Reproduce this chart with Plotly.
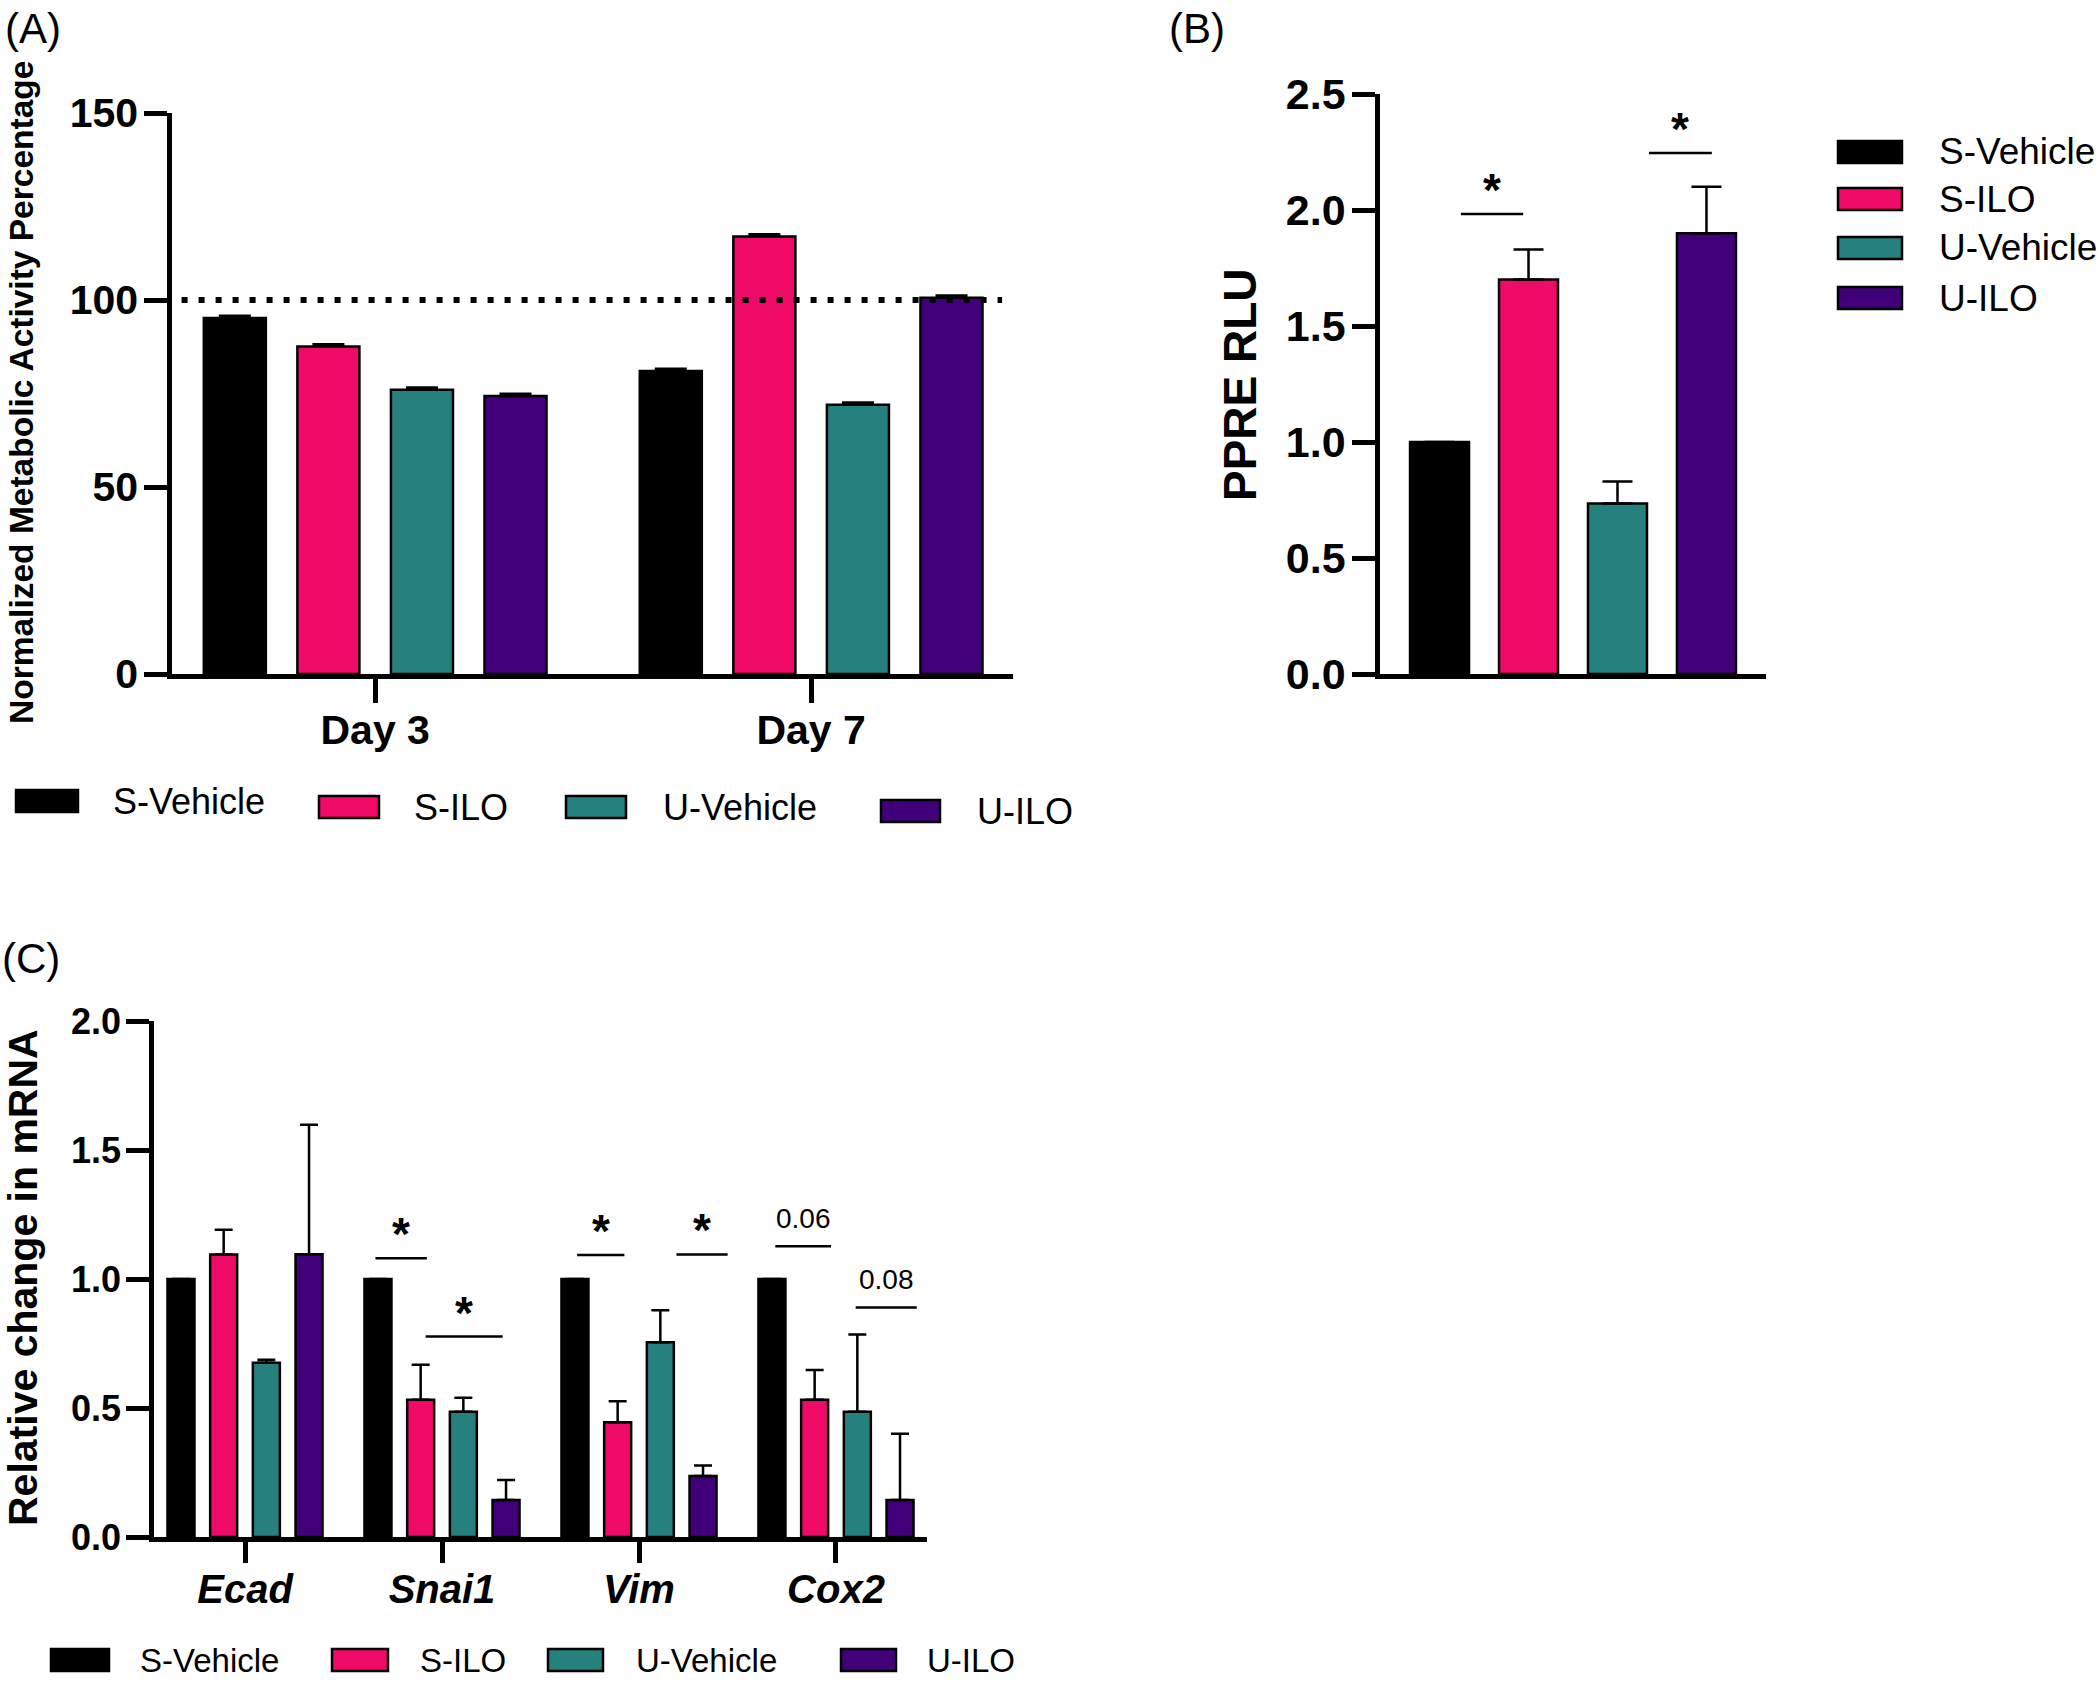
"""Painel de três gráficos de barras (A, B, C) em Plotly."""

import plotly.graph_objects as go

W, H = 2100, 1682
FONT = "Liberation Sans, Arial, Helvetica, sans-serif"

GROUPS = ["S-Vehicle", "S-ILO", "U-Vehicle", "U-ILO"]
COLORS = ["#000000", "#EF0A68", "#26807D", "#41007A"]

# ── (A) metabolic activity ──────────────────────────────────────────────────
DAYS = ["Day 3", "Day 7"]
A_S_VEH = [95.2, 81.0]
A_S_ILO = [87.6, 117.0]
A_U_VEH = [76.0, 72.0]
A_U_ILO = [74.3, 100.6]
A_ERR = [0.6, 0.6]
A_REF = 100

# ── (B) PPRE luciferase ─────────────────────────────────────────────────────
B_MEAN = [1.0, 1.70, 0.735, 1.90]
B_ERR = [0.0, 0.13, 0.095, 0.20]
B_SIG = [(0.24, 0.94, 1.983, "*"), (2.355, 3.06, 2.246, "*")]

# ── (C) qPCR ────────────────────────────────────────────────────────────────
GENES = ["Ecad", "Snai1", "Vim", "Cox2"]
C_S_VEH = [1.0, 1.0, 1.0, 1.0]
C_S_ILO = [1.095, 0.532, 0.445, 0.532]
C_U_VEH = [0.675, 0.485, 0.755, 0.485]
C_U_ILO = [1.096, 0.143, 0.236, 0.143]
C_S_VEH_ERR = [0, 0, 0, 0]
C_S_ILO_ERR = [0.096, 0.136, 0.081, 0.115]
C_U_VEH_ERR = [0.012, 0.055, 0.124, 0.30]
C_U_ILO_ERR = [0.502, 0.078, 0.041, 0.257]
C_SIG = [
    (0.662, 0.923, 1.08, "*"),
    (0.917, 1.308, 0.777, "*"),
    (1.686, 1.926, 1.093, "*"),
    (2.19, 2.45, 1.095, "*"),
    (2.692, 2.975, 1.127, "0.06"),
    (3.10, 3.41, 0.89, "0.08"),
]


def px(x0, x1):
    return [x0 / W, x1 / W]


def py(top, bottom):
    return [1 - bottom / H, 1 - top / H]


def _xaxis(dom, rng, anchor, labels=None, size=40, style="normal", ticklen=23):
    d = dict(domain=dom, range=rng, anchor=anchor, showgrid=False, zeroline=False,
             showline=True, linecolor="black", linewidth=4.5, fixedrange=True)
    if labels:
        d.update(tickmode="array", tickvals=list(range(len(labels))), ticktext=labels,
                 ticks="outside", ticklen=ticklen, tickwidth=4.5, tickcolor="black",
                 ticklabelstandoff=-8,
                 tickfont=dict(family=FONT, size=size, color="black", weight="bold", style=style))
    else:
        d.update(showticklabels=False, ticks="")
    return d


def _yaxis(dom, rng, dtick, anchor, size, fmt):
    return dict(domain=dom, range=rng, anchor=anchor, tick0=0, dtick=dtick, tickformat=fmt,
                showgrid=False, zeroline=False, showline=True, linecolor="black",
                linewidth=4.5, ticks="outside", ticklen=23, tickwidth=4.5, tickcolor="black",
                ticklabelstandoff=-2, fixedrange=True,
                tickfont=dict(family=FONT, size=size, color="black", weight="bold"))


def _bar(x, y, err, color, xa, ya, width, offset, cap):
    return go.Bar(
        x=x, y=y, xaxis=xa, yaxis=ya, width=width, offset=offset,
        marker=dict(color=color, line=dict(color="black", width=2.5)),
        error_y=dict(type="data", array=err, arrayminus=[0] * len(err), symmetric=False,
                     color="black", thickness=2.5, width=cap),
        showlegend=False,
    )


def _legend(fig, items, size):
    # items: (name, color, x0, x1, x_text, y_centre)
    for name, color, x0, x1, xt, yc in items:
        fig.add_shape(type="rect", xref="paper", yref="paper",
                      x0=x0 / W, x1=x1 / W, y0=1 - (yc + 11) / H, y1=1 - (yc - 11) / H,
                      fillcolor=color, line=dict(color="black", width=2.5))
        fig.add_annotation(text=name, xref="paper", yref="paper", x=xt / W, y=1 - yc / H,
                           xanchor="left", yanchor="middle", showarrow=False,
                           font=dict(family=FONT, size=size, color="black"))


def _sig(fig, marks, xa, ya, star_size=46, txt_size=28):
    for x0, x1, y, label in marks:
        fig.add_shape(type="line", xref=xa, yref=ya, x0=x0, x1=x1, y0=y, y1=y,
                      line=dict(color="black", width=2.5))
        if label == "*":
            fig.add_annotation(text="<b>*</b>", xref=xa, yref=ya, x=(x0 + x1) / 2, y=y,
                               yanchor="bottom", yshift=-4, showarrow=False,
                               font=dict(family=FONT, size=star_size, color="black"))
        else:
            fig.add_annotation(text=label, xref=xa, yref=ya, x=(x0 + x1) / 2, y=y,
                               yanchor="bottom", yshift=10, showarrow=False,
                               font=dict(family=FONT, size=txt_size, color="black"))


def _label(fig, text, x, y, size=44, bold=False, angle=0, xanchor="center"):
    fig.add_annotation(text=f"<b>{text}</b>" if bold else text, xref="paper", yref="paper",
                       x=x / W, y=1 - y / H, xanchor=xanchor, yanchor="middle",
                       textangle=angle, showarrow=False,
                       font=dict(family=FONT, size=size, color="black"))


fig = go.Figure()

# (A)
slot_a, w_a = 0.2146, 0.1423
a_series = [A_S_VEH, A_S_ILO, A_U_VEH, A_U_ILO]
for i, (vals, col) in enumerate(zip(a_series, COLORS)):
    fig.add_trace(_bar(list(range(len(DAYS))), vals, A_ERR, col, "x", "y",
                       w_a, (i - 1.5) * slot_a - w_a / 2, 16))
fig.add_shape(type="line", xref="x", yref="y", x0=-0.6, x1=1.438, y0=A_REF, y1=A_REF,
              line=dict(color="black", width=6, dash="6px,11px"))

# (B)
fig.add_trace(_bar(list(range(len(GROUPS))), B_MEAN, B_ERR, COLORS, "x2", "y2",
                   0.663, -0.3315, 15))
_sig(fig, B_SIG, "x2", "y2")

# (C)
slot_c, w_c = 0.2167, 0.137
c_series = [(C_S_VEH, C_S_VEH_ERR), (C_S_ILO, C_S_ILO_ERR),
            (C_U_VEH, C_U_VEH_ERR), (C_U_ILO, C_U_ILO_ERR)]
for i, ((vals, err), col) in enumerate(zip(c_series, COLORS)):
    fig.add_trace(_bar(list(range(len(GENES))), vals, err, col, "x3", "y3",
                       w_c, (i - 1.5) * slot_c - w_c / 2, 9))
_sig(fig, C_SIG, "x3", "y3")

fig.update_layout(
    width=W, height=H, autosize=False,
    margin=dict(l=0, r=0, t=0, b=0, autoexpand=False),
    paper_bgcolor="white", plot_bgcolor="white",
    barmode="overlay",
    font=dict(family=FONT, color="black"),
    xaxis=_xaxis(px(172, 1013), [-0.466, 1.463], "y", DAYS, size=41, ticklen=24),
    yaxis=_yaxis(py(113, 674), [0, 150], 50, "x", 41, "d"),
    xaxis2=_xaxis(px(1380, 1766), [-0.669, 3.669], "y2"),
    yaxis2=_yaxis(py(94, 674), [0, 2.5], 0.5, "x2", 43, ".1f"),
    xaxis3=_xaxis(px(154, 927), [-0.462, 3.462], "y3", GENES, size=40, style="italic", ticklen=21),
    yaxis3=_yaxis(py(1021, 1537), [0, 2.0], 0.5, "x3", 36, ".1f"),
)

# titles and panel letters
_label(fig, "Normalized Metabolic Activity Percentage", 21, 393, size=33.5, bold=True, angle=-90)
_label(fig, "PPRE RLU", 1240, 385, size=46, bold=True, angle=-90)
_label(fig, "Relative change in mRNA", 23, 1278, size=41, bold=True, angle=-90)
_label(fig, "(A)", 3, 28, size=42, xanchor="left")
_label(fig, "(B)", 1167, 28, size=42, xanchor="left")
_label(fig, "(C)", 0, 959, size=42, xanchor="left")

# legends
_legend(fig, [
    ("S-Vehicle", COLORS[0], 16, 78, 111, 801),
    ("S-ILO", COLORS[1], 319, 379, 412, 807),
    ("U-Vehicle", COLORS[2], 566, 626, 661, 807),
    ("U-ILO", COLORS[3], 881, 940, 975, 811),
], 36)
_legend(fig, [
    ("S-Vehicle", COLORS[0], 1838, 1902, 1937, 152),
    ("S-ILO", COLORS[1], 1838, 1902, 1937, 199),
    ("U-Vehicle", COLORS[2], 1838, 1902, 1937, 248),
    ("U-ILO", COLORS[3], 1838, 1902, 1937, 298),
], 37)
_legend(fig, [
    ("S-Vehicle", COLORS[0], 51, 109, 138, 1660),
    ("S-ILO", COLORS[1], 332, 388, 418, 1660),
    ("U-Vehicle", COLORS[2], 548, 603, 634, 1660),
    ("U-ILO", COLORS[3], 841, 896, 925, 1660),
], 33)

PIN = (
    "document.documentElement.style.margin='0';"
    "document.body.style.margin='0';"
    "var g=document.getElementById('{plot_id}');"
    "g.style.position='fixed';g.style.left='0px';g.style.top='0px';"
)
fig.write_html("out.html", config={"displayModeBar": False}, post_script=PIN)
